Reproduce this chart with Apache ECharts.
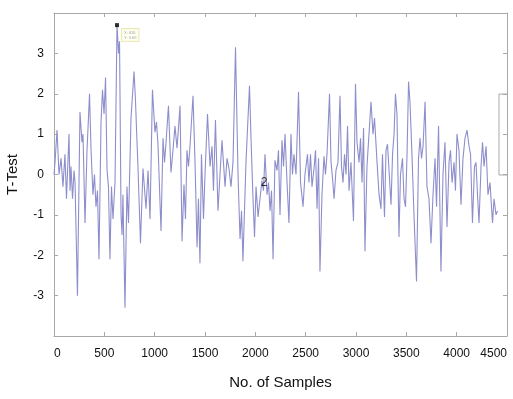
<!DOCTYPE html>
<html>
<head>
<meta charset="utf-8">
<script src="https://cdn.jsdelivr.net/npm/echarts@6/dist/echarts.min.js"></script>
<style>
html,body{margin:0;padding:0;background:#fff;}
#chart{width:513px;height:399px;}
</style>
</head>
<body>
<div id="chart"></div>
<script>
// Sample index (x) of each read point
var sampleIdx = [0,10,30,50,70,89,109,124,149,159,169,184,199,209,233,258,278,288,308,328,353,368,387,402,417,432,447,467,482,497,512,527,541,556,571,586,606,626,641,651,666,676,685,705,725,740,765,795,810,820,834,859,884,914,934,954,978,1003,1018,1033,1063,1083,1098,1113,1137,1162,1182,1202,1222,1252,1272,1291,1306,1321,1336,1351,1381,1401,1421,1435,1450,1465,1485,1500,1525,1550,1570,1584,1604,1629,1649,1669,1699,1719,1738,1758,1778,1803,1828,1848,1863,1877,1907,1942,1957,1977,1992,2007,2027,2046,2066,2081,2096,2116,2131,2146,2161,2176,2195,2215,2230,2245,2265,2280,2295,2315,2334,2354,2369,2384,2404,2429,2449,2474,2493,2518,2533,2548,2563,2583,2598,2613,2628,2642,2662,2682,2697,2712,2737,2752,2767,2782,2801,2821,2841,2856,2871,2886,2901,2916,2931,2950,2975,2995,3010,3030,3045,3060,3075,3089,3109,3129,3149,3169,3184,3209,3229,3248,3263,3283,3298,3313,3328,3348,3363,3378,3392,3407,3427,3442,3462,3477,3492,3507,3522,3536,3556,3576,3601,3621,3636,3651,3666,3686,3705,3725,3745,3765,3785,3800,3820,3844,3864,3884,3904,3924,3939,3954,3974,3988,4003,4023,4043,4063,4083,4103,4123,4138,4157,4177,4192,4207,4222,4242,4257,4272,4292,4311,4331,4356,4371,4391,4406];
// T-Test value at each read point
var tTest = [0.0,0.3,1.1,0.0,0.4,-0.3,0.5,-0.6,1.0,-0.4,0.2,-0.6,0.1,-0.2,-3.0,1.55,0.8,1.0,-1.2,0.6,2.0,0.6,-0.5,0.0,-0.8,-0.4,-2.1,1.3,2.1,1.5,2.4,0.1,-0.3,-2.1,-0.3,-1.1,-0.2,3.7,3.0,3.3,-1.0,-1.5,-0.5,-3.3,-0.3,-1.2,1.4,2.55,1.8,1.1,0.2,-1.7,0.15,-0.85,0.1,-1.1,2.1,1.05,1.3,0.75,-1.4,0.9,0.3,0.8,1.7,0.05,0.6,1.2,0.65,1.7,-1.65,-0.25,-1.1,0.6,0.2,0.7,1.95,0.3,-1.8,-0.6,-2.2,0.5,-1.1,0.0,1.5,0.2,0.7,-0.4,1.35,-0.9,0.0,0.85,-0.3,0.4,0.15,-0.3,0.3,3.15,0.0,-1.6,-0.9,-2.15,0.3,2.2,0.9,-0.6,-1.55,-0.3,-1.05,-0.6,-0.15,-0.4,0.5,-0.5,-0.2,-0.9,-0.4,-2.1,0.35,0.1,0.6,-1.0,0.85,0.2,1.0,-0.2,-1.2,1.0,0.0,0.5,0.0,2.05,-0.2,-0.8,0.0,0.5,-0.2,0.5,-0.3,0.15,0.6,-0.85,0.4,-2.4,-0.5,0.45,0.0,0.5,2.0,0.3,-0.1,-0.6,0.1,0.3,1.95,0.2,-0.2,0.5,0.0,1.2,-0.4,0.3,-1.15,2.25,0.8,0.3,0.9,-0.2,1.15,-1.9,0.2,1.0,1.8,1.0,1.4,0.3,-0.5,-0.85,0.5,-1.05,0.6,0.75,0.1,-0.75,0.5,1.0,2.0,1.5,-1.55,0.0,0.4,-0.6,-0.8,0.5,2.3,1.8,0.5,-1.0,-2.65,0.4,0.9,0.4,0.7,1.8,-0.3,-0.6,-1.7,-0.5,0.4,-0.8,1.2,-2.4,0.0,0.8,-1.3,0.3,0.6,-0.2,0.3,-0.4,1.0,0.6,-0.75,0.4,0.9,1.1,0.7,0.5,-1.2,0.2,0.3,-0.5,-1.2,0.2,0.8,0.2,0.7,-0.5,-0.2,-1.2,-0.6,-1.0,-0.9];
// Data tip at the peak
var peakSample = [626];
var peakValue = [3.7];
var peakTip = ['X: 626', 'Y: 3.69'];
// Stray annotation "2"
var noteSample = [2086];
var noteValue = [-0.2];
var noteText = ['2'];
var xTicks = ['0','500','1000','1500','2000','2500','3000','3500','4000','4500'];
var yTicks = ['-3','-2','-1','0','1','2','3'];

var lineData = sampleIdx.map(function (s, i) { return [s, tTest[i]]; });
var FONT = '"Liberation Sans", Arial, sans-serif';
var axisGray = '#a9a9a9';

function boxAxis(extra) {
  var base = {
    type: 'value',
    axisLine: {show: true, onZero: false, lineStyle: {color: axisGray}},
    axisTick: {show: true, inside: true, length: 4, lineStyle: {color: axisGray}},
    splitLine: {show: false}
  };
  for (var k in extra) base[k] = extra[k];
  return base;
}

var chart = echarts.init(document.getElementById('chart'), null, {renderer: 'canvas'});
chart.setOption({
  animation: false,
  backgroundColor: '#ffffff',
  grid: {left: 54, right: 6, top: 13, bottom: 63, containLabel: false, outerBoundsMode: 'none'},
  xAxis: [boxAxis({
    min: 0, max: 4500, interval: 500, position: 'bottom',
    name: 'No. of Samples', nameLocation: 'middle', nameGap: 39,
    nameTextStyle: {fontFamily: FONT, fontSize: 15, color: '#111'},
    axisLabel: {color: '#111', fontFamily: FONT, fontSize: 12, margin: 12,
      alignMinLabel: 'left', alignMaxLabel: 'right',
      formatter: function (v) { var s = String(v); return xTicks.indexOf(s) >= 0 ? s : ''; }}
  }), boxAxis({
    min: 0, max: 4500, interval: 500, position: 'top',
    axisLabel: {show: false}
  })],
  yAxis: [boxAxis({
    min: -4, max: 4, interval: 1, position: 'left',
    name: 'T-Test', nameLocation: 'middle', nameGap: 34, nameRotate: 90,
    nameTextStyle: {fontFamily: FONT, fontSize: 15, color: '#111'},
    axisLabel: {color: '#111', fontFamily: FONT, fontSize: 12, margin: 10,
      formatter: function (v) { var s = String(v); return yTicks.indexOf(s) >= 0 ? s : ''; }}
  }), boxAxis({
    min: -4, max: 4, interval: 1, position: 'right',
    axisLabel: {show: false}
  })],
  series: [{
    type: 'line', xAxisIndex: 0, yAxisIndex: 0,
    data: lineData, showSymbol: false, symbol: 'none',
    lineStyle: {color: '#8e8ecc', width: 1.1},
    z: 2
  }, {
    type: 'scatter', xAxisIndex: 0, yAxisIndex: 0,
    data: peakSample.map(function (s, i) { return [s, peakValue[i]]; }),
    symbol: 'rect', symbolSize: 4, itemStyle: {color: '#000'},
    label: {show: true, position: 'right', distance: 3, offset: [0, 10],
      formatter: peakTip.join('\n'), fontSize: 4, lineHeight: 5, color: '#888',
      backgroundColor: '#fffff0', borderColor: '#e6e6a8', borderWidth: 1, padding: [1, 2]},
    z: 5
  }, {
    type: 'scatter', xAxisIndex: 0, yAxisIndex: 0,
    data: noteSample.map(function (s, i) { return [s, noteValue[i]]; }),
    symbolSize: 0,
    label: {show: true, position: 'inside', formatter: noteText[0],
      fontFamily: FONT, fontSize: 12, color: '#000'},
    z: 6
  }],
  graphic: [{
    type: 'polyline',
    shape: {points: [[507, 94], [499, 94], [499, 175], [507, 175]]},
    style: {stroke: axisGray, lineWidth: 1, fill: null}
  }]
});
</script>
</body>
</html>
